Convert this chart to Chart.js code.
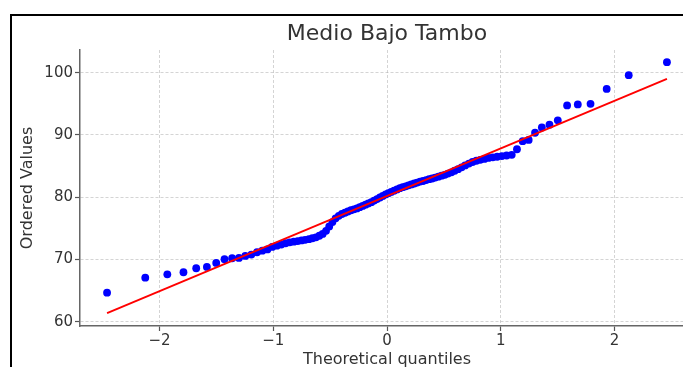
<!DOCTYPE html>
<html>
<head>
<meta charset="utf-8">
<script src="https://cdn.jsdelivr.net/npm/chart.js@4.4.0/dist/chart.umd.min.js"></script>
<style>
  html, body { margin: 0; padding: 0; background: #ffffff; overflow: hidden; width: 683px; height: 367px; }
  canvas { display: block; }
</style>
</head>
<body>
<canvas id="c" width="774" height="380"></canvas>
<script>
// Theoretical quantiles (x)
const theoreticalQuantiles = [
  -2.462, -2.126, -1.932, -1.790, -1.678, -1.584, -1.502, -1.429, -1.362, -1.302,
  -1.246, -1.193, -1.143, -1.097, -1.052, -1.010, -0.969, -0.930, -0.892, -0.856,
  -0.820, -0.786, -0.752, -0.720, -0.687, -0.656, -0.625, -0.595, -0.566, -0.536,
  -0.508, -0.480, -0.452, -0.424, -0.397, -0.370, -0.344, -0.317, -0.291, -0.265,
  -0.240, -0.214, -0.189, -0.164, -0.138, -0.113, -0.088, -0.062, -0.037, -0.012,
  0.012, 0.037, 0.062, 0.088, 0.113, 0.138, 0.164, 0.189, 0.214, 0.240,
  0.265, 0.291, 0.317, 0.344, 0.370, 0.397, 0.424, 0.452, 0.480, 0.508,
  0.536, 0.566, 0.595, 0.625, 0.656, 0.687, 0.720, 0.752, 0.786, 0.820,
  0.856, 0.892, 0.930, 0.969, 1.010, 1.052, 1.097, 1.143, 1.193, 1.246,
  1.302, 1.362, 1.429, 1.502, 1.584, 1.678, 1.790, 1.932, 2.126, 2.462
];
// Ordered values (y)
const orderedValues = [
  64.66, 67.07, 67.6, 67.94, 68.58, 68.8, 69.44, 70.03, 70.19, 70.24,
  70.56, 70.77, 71.15, 71.4, 71.6, 72.0, 72.2, 72.4, 72.6, 72.75,
  72.85, 72.95, 73.05, 73.15, 73.25, 73.4, 73.55, 73.8, 74.1, 74.6,
  75.3, 76.0, 76.6, 77.0, 77.3, 77.5, 77.7, 77.9, 78.05, 78.2,
  78.4, 78.6, 78.8, 79.0, 79.2, 79.45, 79.7, 79.95, 80.2, 80.45,
  80.65, 80.85, 81.05, 81.25, 81.45, 81.6, 81.75, 81.9, 82.05, 82.2,
  82.35, 82.5, 82.6, 82.75, 82.9, 83.0, 83.15, 83.3, 83.45, 83.6,
  83.8, 84.0, 84.25, 84.5, 84.8, 85.1, 85.4, 85.65, 85.85, 86.0,
  86.15, 86.3, 86.4, 86.5, 86.6, 86.7, 86.8, 87.7, 89.0, 89.2,
  90.35, 91.2, 91.65, 92.35, 94.75, 94.9, 95.0, 97.4, 99.6, 101.7
];
// Fit line end points
const fitLineX = [-2.462, 2.462];
const fitLineY = [61.35, 99.0];
// Tick values and labels
const xTickValues = [-2, -1, 0, 1, 2];
const xTickLabels = ['\u22122', '\u22121', '0', '1', '2'];
const yTickValues = [60, 70, 80, 90, 100];
const yTickLabels = ['60', '70', '80', '90', '100'];

const chartTitle = 'Medio Bajo Tambo';
const xAxisTitle = 'Theoretical quantiles';
const yAxisTitle = 'Ordered Values';

const FONT = "'DejaVu Sans', sans-serif";
const TEXT = '#333333';

const pointsData = theoreticalQuantiles.map((q, i) => ({ x: q, y: orderedValues[i] }));
const lineData = fitLineX.map((q, i) => ({ x: q, y: fitLineY[i] }));

const framePlugin = {
  id: 'frame',
  afterDraw(chart) {
    const ctx = chart.ctx;
    ctx.save();
    ctx.strokeStyle = '#000000';
    ctx.lineWidth = 2;
    ctx.strokeRect(11, 15, 1000, 1000);
    ctx.restore();
  }
};

const gridOpts = {
  color: 'rgba(176,176,176,0.55)',
  lineWidth: 1,
  tickColor: '#555555',
  tickLength: 5,
  tickWidth: 1.2,
  tickBorderDash: []
};

new Chart(document.getElementById('c'), {
  type: 'scatter',
  data: {
    datasets: [
      {
        type: 'line',
        data: lineData,
        borderColor: '#ff0000',
        borderWidth: 1.9,
        pointRadius: 0,
        fill: false,
        tension: 0,
        order: 0
      },
      {
        type: 'scatter',
        data: pointsData,
        backgroundColor: '#0000ff',
        borderWidth: 0,
        pointRadius: 3.9,
        order: 1
      }
    ]
  },
  options: {
    responsive: false,
    animation: false,
    events: [],
    layout: { padding: 0 },
    plugins: {
      legend: { display: false },
      tooltip: { enabled: false },
      title: {
        display: true,
        text: chartTitle,
        color: TEXT,
        font: { family: FONT, size: 22, weight: 'normal' },
        padding: { top: 21.3, bottom: 2.3 }
      }
    },
    scales: {
      x: {
        type: 'linear',
        min: -2.70,
        max: 2.70,
        afterBuildTicks(scale) { scale.ticks = xTickValues.map(v => ({ value: v })); },
        afterFit(scale) { scale.height = 54; },
        ticks: {
          color: TEXT,
          font: { family: FONT, size: 15 },
          padding: 1,
          callback(value) { const i = xTickValues.indexOf(value); return i >= 0 ? xTickLabels[i] : ''; }
        },
        grid: gridOpts,
        border: { display: true, color: '#666666', width: 1.5, dash: [3, 2] },
        title: {
          display: true,
          text: xAxisTitle,
          color: TEXT,
          font: { family: FONT, size: 16 },
          padding: { top: 0, bottom: 11 }
        }
      },
      y: {
        type: 'linear',
        position: 'left',
        min: 59.3,
        max: 103.65,
        afterBuildTicks(scale) { scale.ticks = yTickValues.map(v => ({ value: v })); },
        afterFit(scale) { scale.width = 80; },
        ticks: {
          color: TEXT,
          font: { family: FONT, size: 15 },
          padding: 2,
          callback(value) { const i = yTickValues.indexOf(value); return i >= 0 ? yTickLabels[i] : ''; }
        },
        grid: gridOpts,
        border: { display: true, color: '#666666', width: 1.5, dash: [3, 2] },
        title: {
          display: true,
          text: yAxisTitle,
          color: TEXT,
          font: { family: FONT, size: 16 },
          padding: { top: 18.4, bottom: 0 }
        }
      },
      yRight: {
        type: 'linear',
        position: 'right',
        display: true,
        min: 59.3,
        max: 103.65,
        afterFit(scale) { scale.width = 80; },
        ticks: { display: false },
        grid: { display: false, drawTicks: false },
        border: { display: false },
        title: { display: false }
      }
    }
  },
  plugins: [framePlugin]
});
</script>
</body>
</html>
